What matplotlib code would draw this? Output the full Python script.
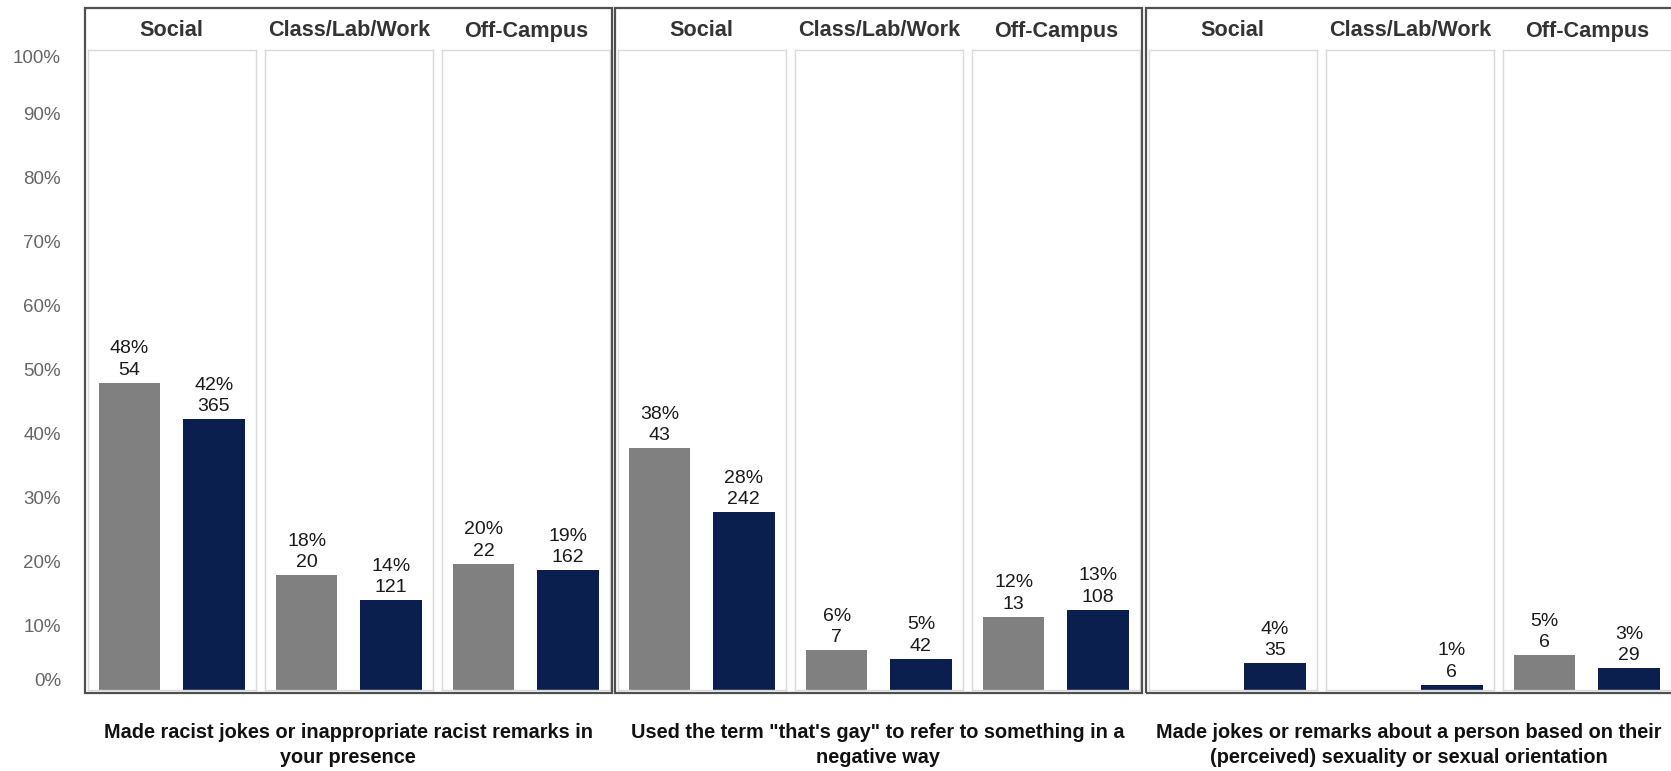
import matplotlib
matplotlib.use('Agg')
import matplotlib.pyplot as plt
from matplotlib.patches import Rectangle

plt.rcParams['font.family'] = ['Liberation Sans', 'DejaVu Sans']

# ---------------- data ----------------
locations = ['Social', 'Class/Lab/Work', 'Off-Campus']
behaviors = [
    'Made racist jokes or inappropriate racist remarks in\nyour presence',
    'Used the term "that\'s gay" to refer to something in a\nnegative way',
    'Made jokes or remarks about a person based on their\n(perceived) sexuality or sexual orientation',
]
# grey series
gray_pct = [[48.0, 17.9, 19.7], [37.8, 6.2, 11.4], [None, None, 5.4]]
gray_lbl = [[48, 18, 20], [38, 6, 12], [None, None, 5]]
gray_n = [[54, 20, 22], [43, 7, 13], [None, None, 6]]
# navy series
navy_pct = [[42.3, 14.0, 18.7], [27.8, 4.9, 12.5], [4.2, 0.8, 3.4]]
navy_lbl = [[42, 14, 19], [28, 5, 13], [4, 1, 3]]
navy_n = [[365, 121, 162], [242, 42, 108], [35, 6, 29]]
ytick_vals = [0, 10, 20, 30, 40, 50, 60, 70, 80, 90, 100]
ytick_labels = [f'{v}%' for v in ytick_vals]

# ---------------- style / layout ----------------
W, H = 1671, 771
GRAY = '#808080'
NAVY = '#0b1f4e'
fig = plt.figure(figsize=(W / 100, H / 100), dpi=100)

def fx(x):
    return x / W

def fy(y):
    return 1 - y / H

group_left = [85, 615, 1146]
group_w = 526.5
frame_top, frame_bot = 7.5, 693
sub_off, sub_w, sub_gap = 2.5, 168.5, 8.5
sub_top, sub_bot = 50, 690

for g in range(3):
    L = group_left[g]
    rect = Rectangle((fx(L), fy(frame_bot)), fx(group_w), (frame_bot - frame_top) / H,
                     transform=fig.transFigure, fill=False, ec='#505050', lw=1.6, zorder=5)
    fig.add_artist(rect)
    for k in range(3):
        x0 = L + sub_off + k * (sub_w + sub_gap)
        ax = fig.add_axes([fx(x0), fy(sub_bot), fx(sub_w), (sub_bot - sub_top) / H])
        ax.set_xlim(-0.5, 1.5)
        ax.set_ylim(0, 100)
        for s in ax.spines.values():
            s.set_color('#d9d9d9')
            s.set_linewidth(1.0)
        ax.set_xticks([])
        gp, gl, gn = gray_pct[g][k], gray_lbl[g][k], gray_n[g][k]
        npct, nl, nn = navy_pct[g][k], navy_lbl[g][k], navy_n[g][k]
        if gp is not None:
            ax.bar([0], [gp], width=0.73, color=GRAY, zorder=2)
            ax.annotate(f'{gl}%\n{gn}', xy=(0, gp), xytext=(0, 4), textcoords='offset pixels',
                        ha='center', va='bottom', fontsize=14, color='#1a1a1a', linespacing=1.35)
        ax.bar([1], [npct], width=0.73, color=NAVY, zorder=2)
        ax.annotate(f'{nl}%\n{nn}', xy=(1, npct), xytext=(0, 4), textcoords='offset pixels',
                    ha='center', va='bottom', fontsize=14, color='#1a1a1a', linespacing=1.35)
        ax.annotate(locations[k], xy=(0.5, 1), xycoords='axes fraction', xytext=(0, 19),
                    textcoords='offset pixels', ha='center', va='center',
                    fontsize=15.6, fontweight='bold', color='#333333')
        if g == 0 and k == 0:
            ax.set_yticks(ytick_vals, ytick_labels)
            ax.tick_params(axis='y', length=0, pad=19, labelsize=13.5, labelcolor='#666666')
            lbls = ax.get_yticklabels()
            lbls[0].set_va('bottom')
            lbls[-1].set_va('top')
        else:
            ax.set_yticks([])
    fig.text(fx(L + group_w / 2), fy(745), behaviors[g], ha='center', va='center',
             fontsize=14.3, fontweight='bold', color='#111111', linespacing=1.45)

fig.savefig('out.png', dpi=100)
